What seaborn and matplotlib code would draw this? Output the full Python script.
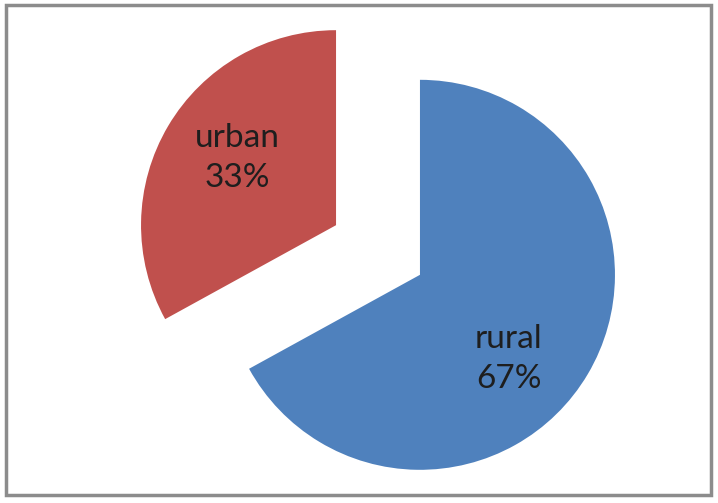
import seaborn as sns
import matplotlib.pyplot as plt
from matplotlib.patches import Rectangle

# data
categories = ["rural", "urban"]
shares = [67, 33]
colors = ["#4F81BD", "#C0504D"]

sns.set_theme(style="white")
plt.rcParams['font.family'] = ['Lato', 'DejaVu Sans']

fig = plt.figure(figsize=(7.18, 5.03), dpi=100)
ax = fig.add_axes([0, 0, 1, 1])

wedges, texts = ax.pie(
    shares,
    labels=[f"{c}\n{s}%" for c, s in zip(categories, shares)],
    colors=colors,
    startangle=90,
    counterclock=False,
    explode=[0.25, 0.25],
    labeldistance=0.6,
    wedgeprops=dict(linewidth=0),
    textprops=dict(fontsize=24, color="#1e1e1e", ha="center", va="center",
                   linespacing=1.42),
)

# nudge labels to where Excel puts them
texts[0].set_position((0.67, -0.56))
texts[1].set_position((-0.72, 0.47))

# pie radius ~195 px, centre at about (378, 250) px
r = 195
ax.set_xlim(-378 / r, (718 - 378) / r)
ax.set_ylim(-(503 - 250) / r, 250 / r)
ax.set_aspect("auto")
ax.axis("off")

# grey frame around the chart
fig.patches.append(Rectangle((6 / 718, 8 / 503), 705 / 718, 490 / 503,
                             transform=fig.transFigure, fill=False,
                             edgecolor="#8c8c8c", linewidth=2.5))

fig.savefig("out.png", dpi=100)
